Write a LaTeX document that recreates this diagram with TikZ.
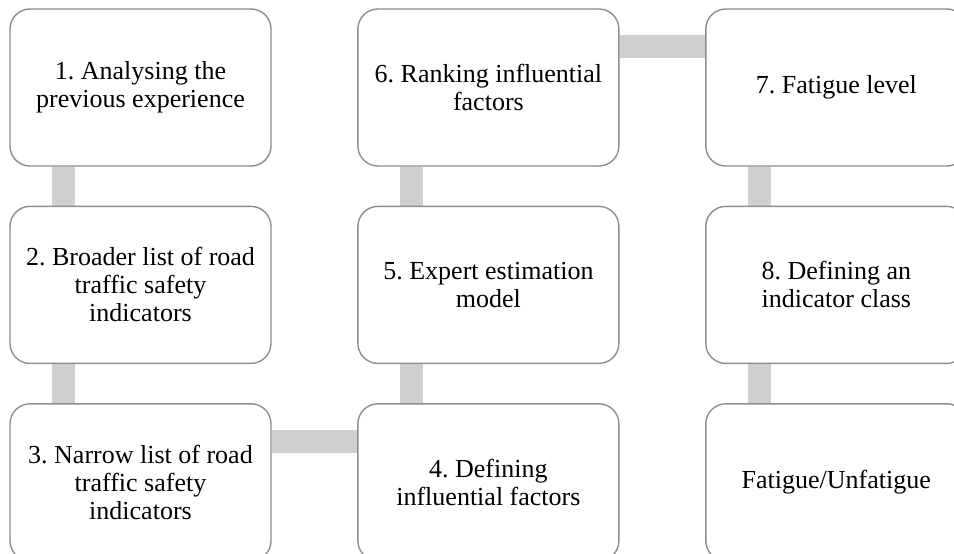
\documentclass[tikz,border=0pt]{standalone}
\usepackage{fontspec}
\setmainfont{Liberation Serif}
\usepackage{tikz}
\usetikzlibrary{positioning, backgrounds}
\frenchspacing

\definecolor{boxline}{HTML}{8E8E8E}
\definecolor{barfill}{HTML}{CFCFCF}

\begin{document}
\begin{tikzpicture}[
			x=1pt, y=1pt,
			node distance=39pt and 85.5pt,
			stage/.style={draw=boxline, line width=1.4pt, fill=white, rounded corners=20pt,
				minimum width=261pt, minimum height=157pt, align=center,
				font=\fontsize{26pt}{28pt}\selectfont},
			bar/.style={draw=barfill, line width=23pt}
			]
			\useasboundingbox (0,0) rectangle (954,-554);
			\clip (0,0) rectangle (954,-554);
			
			\node[stage] (1) at (140.5,-87.5) {1. Analysing the\\previous experience};
			\node[stage,below=of 1] (2) {2. Broader list of road\\traffic safety\\indicators};
			\node[stage,below=of 2] (3) {3. Narrow list of road\\traffic safety\\indicators};
			\node[stage,right=of 3] (4) {4. Defining\\influential factors};
			\node[stage,above=of 4] (5) {5. Expert estimation\\model};
			\node[stage,above=of 5] (6) {6. Ranking influential\\factors};
			\node[stage,right=of 6] (7) {7. Fatigue level};
			\node[stage,below=of 7] (8) {8. Defining an\\indicator class};
			\node[stage,below=of 8] (9) {Fatigue/Unfatigue};
			
			\begin{scope}[on background layer]
			\draw[bar] ([xshift=54pt]1.south west) -- ([xshift=54pt]2.north west);
			\draw[bar] ([xshift=54pt]2.south west) -- ([xshift=54pt]3.north west);
			\draw[bar] ([yshift=-38pt]3.north east) -- ([yshift=-38pt]4.north west);
			\draw[bar] ([xshift=54pt]4.north west) -- ([xshift=54pt]5.south west);
			\draw[bar] ([xshift=54pt]5.north west) -- ([xshift=54pt]6.south west);
			\draw[bar] ([yshift=-38pt]6.north east) -- ([yshift=-38pt]7.north west);
			\draw[bar] ([xshift=54pt]7.south west) -- ([xshift=54pt]8.north west);
			\draw[bar] ([xshift=54pt]8.south west) -- ([xshift=54pt]9.north west);
			\end{scope}
		\end{tikzpicture}
\end{document}
